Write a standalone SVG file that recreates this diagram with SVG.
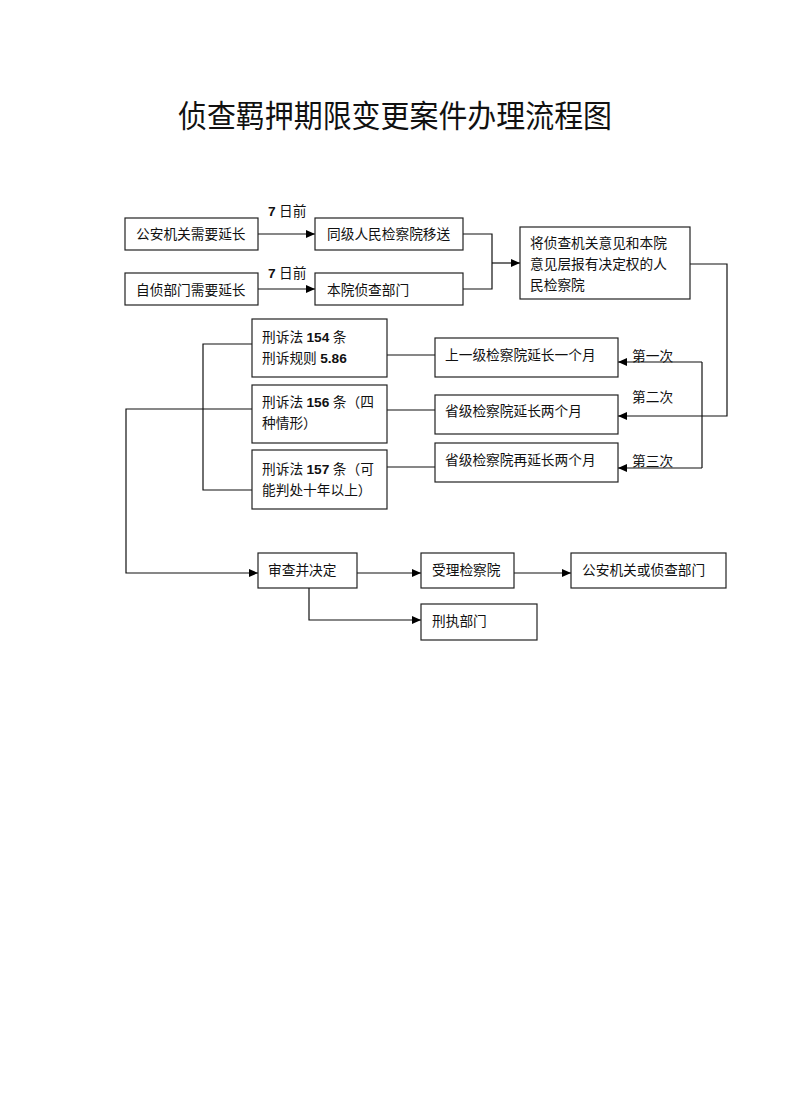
<svg xmlns="http://www.w3.org/2000/svg" width="792" height="1120" viewBox="0 0 792 1120">
<style>
.box{fill:#fff;stroke:#222;stroke-width:1.2}
.t{font-family:"Liberation Serif","Noto Sans CJK SC",serif;font-size:13.7px;fill:#111}
.d{font-family:"Liberation Sans",sans-serif;font-weight:bold}
.title{font-family:"Liberation Serif","Noto Sans CJK SC",serif;font-size:31px;fill:#111}
.c{fill:none;stroke:#111;stroke-width:1.2}
</style>
<defs>
<marker id="arr" markerUnits="userSpaceOnUse" markerWidth="10" markerHeight="10" refX="9" refY="5" orient="auto">
<path d="M0,1 L9,5 L0,9 Z" fill="#000"/>
</marker>
</defs>
<rect width="792" height="1120" fill="#fff"/>
<text class="title" x="178" y="127" textLength="434" lengthAdjust="spacingAndGlyphs">侦查羁押期限变更案件办理流程图</text>

<g id="connectors">
<path class="c" d="M258,234 H315" marker-end="url(#arr)"/>
<path class="c" d="M258,289 H315" marker-end="url(#arr)"/>
<path class="c" d="M463,234 H492 V289 H463"/>
<path class="c" d="M492,263 H520" marker-end="url(#arr)"/>
<path class="c" d="M690,264 H727 V416 H618" marker-end="url(#arr)"/>
<path class="c" d="M702,362 V468"/>
<path class="c" d="M702,362 H618" marker-end="url(#arr)"/>
<path class="c" d="M702,468 H618" marker-end="url(#arr)"/>
<path class="c" d="M387,355 H435"/>
<path class="c" d="M387,410 H435"/>
<path class="c" d="M387,467 H435"/>
<path class="c" d="M252,344 H203 V490 H252"/>
<path class="c" d="M252,409 H126 V573 H258" marker-end="url(#arr)"/>
<path class="c" d="M357,573 H421" marker-end="url(#arr)"/>
<path class="c" d="M514,573 H571" marker-end="url(#arr)"/>
<path class="c" d="M309,588 V620 H421" marker-end="url(#arr)"/>
<text class="t" x="268" y="216"><tspan class="d">7</tspan> 日前</text>
<text class="t" x="268" y="278"><tspan class="d">7</tspan> 日前</text>
<text class="t" x="632" y="361">第一次</text>
<text class="t" x="632" y="402">第二次</text>
<text class="t" x="632" y="466">第三次</text>
</g>

<g id="n1"><rect class="box" x="125" y="218" width="133" height="32"/><text class="t" x="136" y="239">公安机关需要延长</text></g>
<g id="n2"><rect class="box" x="315" y="218" width="148" height="32"/><text class="t" x="327" y="239">同级人民检察院移送</text></g>
<g id="n3"><rect class="box" x="125" y="273" width="133" height="32"/><text class="t" x="136" y="295">自侦部门需要延长</text></g>
<g id="n4"><rect class="box" x="315" y="273" width="148" height="32"/><text class="t" x="327" y="295">本院侦查部门</text></g>
<g id="n5"><rect class="box" x="520" y="227" width="170" height="72"/>
<text class="t" x="530" y="248">将侦查机关意见和本院</text>
<text class="t" x="530" y="269">意见层报有决定权的人</text>
<text class="t" x="530" y="290">民检察院</text></g>
<g id="n6"><rect class="box" x="252" y="319" width="135" height="58"/>
<text class="t" x="262" y="342">刑诉法 <tspan class="d">154</tspan> 条</text>
<text class="t" x="262" y="363">刑诉规则 <tspan class="d">5.86</tspan></text></g>
<g id="n7"><rect class="box" x="252" y="385" width="135" height="58"/>
<text class="t" x="262" y="407">刑诉法 <tspan class="d">156</tspan> 条（四</text>
<text class="t" x="262" y="428">种情形）</text></g>
<g id="n8"><rect class="box" x="252" y="450" width="135" height="59"/>
<text class="t" x="262" y="474">刑诉法 <tspan class="d">157</tspan> 条（可</text>
<text class="t" x="262" y="495">能判处十年以上）</text></g>
<g id="n9"><rect class="box" x="435" y="338" width="183" height="39"/><text class="t" x="445" y="360">上一级检察院延长一个月</text></g>
<g id="n10"><rect class="box" x="435" y="395" width="183" height="39"/><text class="t" x="445" y="416">省级检察院延长两个月</text></g>
<g id="n11"><rect class="box" x="435" y="443" width="183" height="39"/><text class="t" x="445" y="465">省级检察院再延长两个月</text></g>
<g id="n12"><rect class="box" x="258" y="553" width="99" height="35"/><text class="t" x="268" y="575">审查并决定</text></g>
<g id="n13"><rect class="box" x="421" y="553" width="93" height="35"/><text class="t" x="432" y="575">受理检察院</text></g>
<g id="n14"><rect class="box" x="571" y="553" width="155" height="35"/><text class="t" x="582" y="575">公安机关或侦查部门</text></g>
<g id="n15"><rect class="box" x="421" y="604" width="116" height="36"/><text class="t" x="432" y="626">刑执部门</text></g>
</svg>
